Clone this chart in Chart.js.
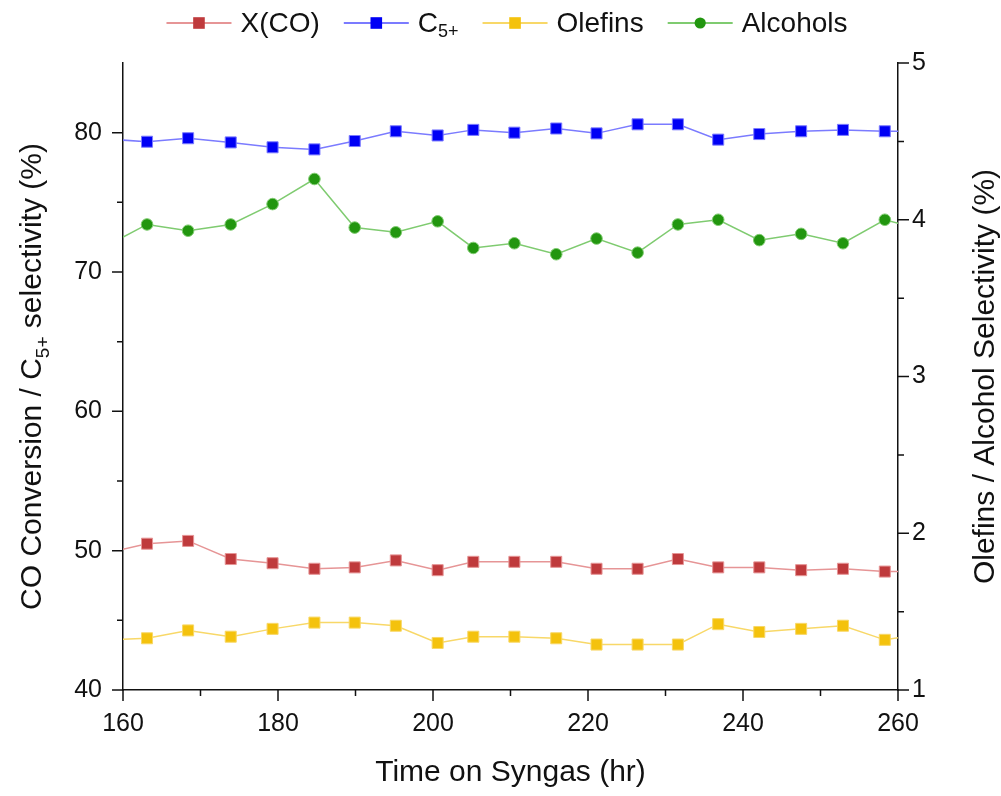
<!DOCTYPE html>
<html>
<head>
<meta charset="utf-8">
<title>Time on Syngas</title>
<script src="https://cdn.jsdelivr.net/npm/chart.js@4/dist/chart.umd.min.js"></script>
<style>
    html, body { margin: 0; padding: 0; background: #fff; }
    #wrap { width: 1001px; height: 796px; position: relative; }
</style>
</head>
<body>
<div id="wrap"><canvas id="chart"></canvas></div>
<script>
// 数据，首尾两个点在坐标范围外，只为画出边缘的连线
const timeHr   = [157.7, 163.1, 168.4, 173.9, 179.3, 184.7, 189.9, 195.2, 200.6, 205.2, 210.5,
                  215.9, 221.1, 226.4, 231.6, 236.8, 242.1, 247.5, 252.9, 258.3, 263.7];
const xCO      = [49.8, 50.5, 50.7, 49.4, 49.1, 48.7, 48.8, 49.3, 48.6, 49.2, 49.2,
                  49.2, 48.7, 48.7, 49.4, 48.8, 48.8, 48.6, 48.7, 48.5, 48.5];
const c5plus   = [79.55, 79.35, 79.6, 79.3, 78.95, 78.8, 79.4, 80.1, 79.8, 80.2, 80.0,
                  80.3, 79.95, 80.6, 80.6, 79.5, 79.9, 80.1, 80.2, 80.1, 80.1];
const olefins  = [1.32, 1.33, 1.38, 1.34, 1.39, 1.43, 1.43, 1.41, 1.30, 1.34, 1.34,
                  1.33, 1.29, 1.29, 1.29, 1.42, 1.37, 1.39, 1.41, 1.32, 1.36];
const alcohols = [3.83, 3.97, 3.93, 3.97, 4.10, 4.26, 3.95, 3.92, 3.99, 3.82, 3.85,
                  3.78, 3.88, 3.79, 3.97, 4.00, 3.87, 3.91, 3.85, 4.00, 3.93];

const xTicks = [160, 180, 200, 220, 240, 260];
const leftTicks = [40, 50, 60, 70, 80];
const rightTicks = [1, 2, 3, 4, 5];

const FONT = '"Liberation Sans", Arial, sans-serif';

function toPoints(values) {
    return timeHr.map((t, i) => ({ x: t, y: values[i] }));
}

function series(label, values, axis, fill, line, style, radius) {
    return {
        label: label,
        data: toPoints(values),
        yAxisID: axis,
        borderColor: line,
        borderWidth: 1.5,
        pointStyle: style,
        pointRadius: radius,
        pointBackgroundColor: fill,
        pointBorderColor: line,
        pointBorderWidth: 1,
        tension: 0
    };
}

const datasets = [
    series('X(CO)', xCO, 'y', '#bf3a3c', '#e69596', 'rect', 7.8),
    series('C5+', c5plus, 'y', '#0000f5', '#7b7bff', 'rect', 7.8),
    series('Olefins', olefins, 'y1', '#f4c20d', '#f8d868', 'rect', 7.8),
    series('Alcohols', alcohols, 'y1', '#22960f', '#7fcb70', 'circle', 5.8)
];

// 带下标的文字：parts = [[文字, 是否下标], ...]
function richWidth(ctx, parts, size) {
    let w = 0;
    parts.forEach(([t, sub]) => {
        ctx.font = `${sub ? Math.round(size * 0.64) : size}px ${FONT}`;
        w += ctx.measureText(t).width;
    });
    return w;
}

function drawRich(ctx, parts, x, y, size) {
    let cx = x;
    parts.forEach(([t, sub]) => {
        ctx.font = `${sub ? Math.round(size * 0.64) : size}px ${FONT}`;
        ctx.fillText(t, cx, sub ? y + size * 0.28 : y);
        cx += ctx.measureText(t).width;
    });
}

const decorPlugin = {
    id: 'decor',
    afterDraw(chart) {
        const ctx = chart.ctx;
        const area = chart.chartArea;
        const sx = chart.scales.x, sy = chart.scales.y, sy1 = chart.scales.y1;
        ctx.save();
        ctx.strokeStyle = '#111';
        ctx.fillStyle = '#111';
        ctx.lineWidth = 1.5;

        // 刻度线：主刻度长，次刻度短
        ctx.beginPath();
        for (let v = 160; v <= 260; v += 10) {
            const px = sx.getPixelForValue(v);
            const len = v % 20 === 0 ? 11 : 6;
            ctx.moveTo(px, area.bottom);
            ctx.lineTo(px, area.bottom + len);
        }
        for (let v = 40; v < 85; v += 5) {
            const py = sy.getPixelForValue(v);
            const len = v % 10 === 0 ? 11 : 6;
            ctx.moveTo(area.left, py);
            ctx.lineTo(area.left - len, py);
        }
        for (let v = 1; v <= 5; v += 0.5) {
            const py = sy1.getPixelForValue(v);
            const len = v % 1 === 0 ? 11 : 6;
            ctx.moveTo(area.right, py);
            ctx.lineTo(area.right + len, py);
        }
        ctx.stroke();

        // 刻度标签
        ctx.font = `25px ${FONT}`;
        ctx.textAlign = 'center';
        ctx.textBaseline = 'alphabetic';
        xTicks.forEach(v => ctx.fillText(String(v), sx.getPixelForValue(v), area.bottom + 41));
        ctx.textAlign = 'right';
        ctx.textBaseline = 'middle';
        leftTicks.forEach(v => ctx.fillText(String(v), area.left - 21, sy.getPixelForValue(v)));
        ctx.textAlign = 'left';
        rightTicks.forEach(v => ctx.fillText(String(v), area.right + 14, sy1.getPixelForValue(v)));

        // 坐标轴标题
        ctx.textAlign = 'center';
        ctx.textBaseline = 'alphabetic';
        ctx.font = `30px ${FONT}`;
        ctx.fillText('Time on Syngas (hr)', (area.left + area.right) / 2, 781);

        const midY = (area.top + area.bottom) / 2;
        ctx.textAlign = 'left';
        const leftTitle = [['CO Conversion / C', false], ['5+', true], [' selectivity (%)', false]];
        const lw = richWidth(ctx, leftTitle, 30);
        ctx.save();
        ctx.translate(41, midY);
        ctx.rotate(-Math.PI / 2);
        drawRich(ctx, leftTitle, -lw / 2, 0, 30);
        ctx.restore();

        const rightTitle = [['Olefins / Alcohol Selectivity (%)', false]];
        const rw = richWidth(ctx, rightTitle, 30);
        ctx.save();
        ctx.translate(994, midY);
        ctx.rotate(-Math.PI / 2);
        drawRich(ctx, rightTitle, -rw / 2, 0, 30);
        ctx.restore();

        // 图例（手画，为了 C5+ 的下标）
        const labels = [
            [['X(CO)', false]],
            [['C', false], ['5+', true]],
            [['Olefins', false]],
            [['Alcohols', false]]
        ];
        const seg = 65, gapText = 9, gapItem = 24;
        const widths = labels.map(p => richWidth(ctx, p, 28));
        let total = widths.reduce((a, b) => a + b, 0) + labels.length * (seg + gapText) + (labels.length - 1) * gapItem;
        let lx = 507 - total / 2;
        const ly = 23;
        ctx.textBaseline = 'middle';
        datasets.forEach((ds, i) => {
            ctx.strokeStyle = ds.borderColor;
            ctx.lineWidth = 2;
            ctx.beginPath();
            ctx.moveTo(lx, ly);
            ctx.lineTo(lx + seg, ly);
            ctx.stroke();
            const mx = lx + seg / 2;
            ctx.fillStyle = ds.pointBackgroundColor;
            ctx.lineWidth = 1;
            if (ds.pointStyle === 'circle') {
                ctx.beginPath();
                ctx.arc(mx, ly, 5.6, 0, Math.PI * 2);
                ctx.fill();
            } else {
                ctx.fillRect(mx - 5.8, ly - 5.8, 11.6, 11.6);
            }
            ctx.fillStyle = '#111';
            drawRich(ctx, labels[i], lx + seg + gapText, ly + 1, 28);
            lx += seg + gapText + widths[i] + gapItem;
        });
        ctx.restore();
    }
};

const ctx = document.getElementById('chart').getContext('2d');
new Chart(ctx, {
    type: 'line',
    data: { datasets: datasets },
    options: {
        responsive: true,
        maintainAspectRatio: false,
        animation: false,
        layout: { padding: { top: 63, left: 0, right: 0, bottom: 0 } },
        plugins: {
            legend: { display: false },
            tooltip: { enabled: false }
        },
        scales: {
            x: {
                type: 'linear',
                min: 160,
                max: 260,
                grid: { display: false },
                border: { display: true, color: '#111', width: 1.5 },
                ticks: { display: false },
                afterFit: s => { s.height = 106; }
            },
            y: {
                position: 'left',
                min: 40,
                max: 85,
                grid: { display: false },
                border: { display: true, color: '#111', width: 1.5 },
                ticks: { display: false },
                afterFit: s => { s.width = 123; }
            },
            y1: {
                position: 'right',
                min: 1,
                max: 5,
                grid: { display: false },
                border: { display: true, color: '#111', width: 1.5 },
                ticks: { display: false },
                afterFit: s => { s.width = 103; }
            }
        }
    },
    plugins: [decorPlugin]
});
</script>
</body>
</html>
